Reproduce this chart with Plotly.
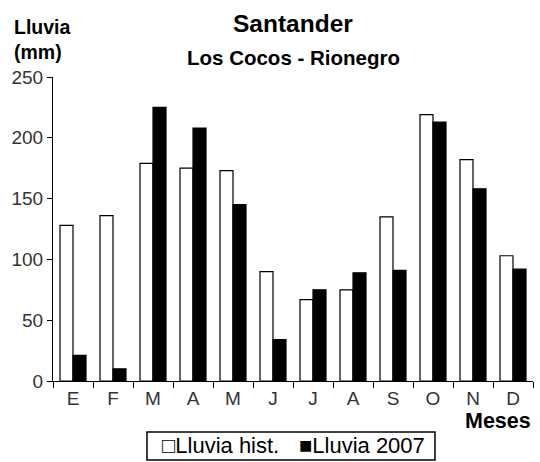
import plotly.graph_objects as go

# Monthly rainfall, Los Cocos - Rionegro station (Santander)
meses = ["Ene", "Feb", "Mar", "Abr", "May", "Jun", "Jul", "Ago", "Sep", "Oct", "Nov", "Dic"]
etiquetas = ["E", "F", "M", "A", "M", "J", "J", "A", "S", "O", "N", "D"]
lluvia_hist = [128, 136, 179, 175, 173, 90, 67, 75, 135, 219, 182, 103]
lluvia_2007 = [21, 10, 225, 208, 145, 34, 75, 89, 91, 213, 158, 92]
y_ticks = [0, 50, 100, 150, 200, 250]
series_names = ["Lluvia hist.", "Lluvia 2007"]

FONT = "Liberation Sans, Arial, sans-serif"

fig = go.Figure()
fig.add_trace(go.Bar(
    x=meses, y=lluvia_hist, name=series_names[0],
    marker=dict(color="white", line=dict(color="black", width=1.2)),
))
fig.add_trace(go.Bar(
    x=meses, y=lluvia_2007, name=series_names[1],
    marker=dict(color="black", line=dict(color="black", width=1.2)),
))

# compact boxed key below the axis: symbol glyph directly against each label
key_y = -0.2138
key = [
    dict(text="\u25a1" + series_names[0], x=0.2229, y=key_y, xref="paper", yref="paper",
         showarrow=False, font=dict(size=22, color="black"), xanchor="left", yanchor="middle"),
    dict(text="\u25a0" + series_names[1], x=0.5083, y=key_y, xref="paper", yref="paper",
         showarrow=False, font=dict(size=22, color="black"), xanchor="left", yanchor="middle"),
]

fig.update_layout(
    width=540, height=462,
    margin=dict(l=53, r=7, t=77, b=81, autoexpand=False),
    paper_bgcolor="white", plot_bgcolor="white",
    barmode="group", bargap=0.35, bargroupgap=0,
    font=dict(family=FONT, color="#222", size=19),
    showlegend=False,
    xaxis=dict(
        type="category", tickmode="array", tickvals=meses, ticktext=etiquetas,
        tickson="boundaries", ticks="outside", ticklen=6, tickcolor="black",
        showline=True, linecolor="black", linewidth=1, showgrid=False,
        tickfont=dict(size=19, color="#333"), range=[-0.5, 11.5],
    ),
    yaxis=dict(
        range=[0, 250], tickvals=y_ticks, ticks="outside", ticklen=5,
        tickcolor="black", showline=True, linecolor="black", linewidth=1,
        showgrid=False, zeroline=False, tickfont=dict(size=19, color="#333"),
    ),
    shapes=[
        dict(type="rect", xref="paper", yref="paper", x0=0.1958, x1=0.7958,
             y0=-0.2599, y1=-0.1678, line=dict(color="black", width=1.5),
             fillcolor="white", layer="below"),
    ],
    annotations=[
        dict(text="<b>Santander</b>", x=0.5, y=1.177, xref="paper", yref="paper",
             showarrow=False, font=dict(size=24.5, color="black"), xanchor="center", yanchor="middle"),
        dict(text="<b>Los Cocos - Rionegro</b>", x=0.5, y=1.065, xref="paper", yref="paper",
             showarrow=False, font=dict(size=20.5, color="black"), xanchor="center", yanchor="middle"),
        dict(text="<b>Lluvia</b>", x=-0.086, y=1.164, xref="paper", yref="paper",
             showarrow=False, font=dict(size=19.5, color="black"), xanchor="left", yanchor="middle"),
        dict(text="<b>(mm)</b>", x=-0.086, y=1.082, xref="paper", yref="paper",
             showarrow=False, font=dict(size=19.5, color="black"), xanchor="left", yanchor="middle"),
        dict(text="<b>Meses</b>", x=1.0, y=-0.13, xref="paper", yref="paper",
             showarrow=False, font=dict(size=21.5, color="black"), xanchor="right", yanchor="middle"),
    ] + key,
)

fig.write_html("out.html")
